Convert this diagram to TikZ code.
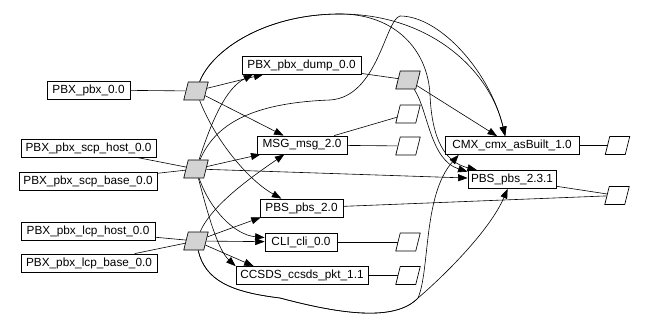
\documentclass[tikz,border=0pt]{standalone}
\usepackage{fontspec}
\setmainfont{Liberation Sans}
\usetikzlibrary{shapes.geometric,arrows.meta}
\definecolor{pgray}{RGB}{211,211,211}
\pgfdeclarelayer{bg}
\pgfsetlayers{bg,main}
\begin{document}
\begin{tikzpicture}[x=1pt,y=-1pt,
  box/.style={draw, line width=0.8pt, rectangle, minimum height=18pt, inner sep=0pt, fill=white, font=\fontsize{11.8}{13}\selectfont},
  para/.style={draw, line width=0.7pt, trapezium, trapezium left angle=76, trapezium right angle=104, minimum width=0pt, minimum height=0pt, inner xsep=7.75pt, inner ysep=9pt},
  gpara/.style={para, fill=pgray},
  wpara/.style={para, fill=white},
  ln/.style={line width=0.6pt},
  arr/.style={line width=0.6pt, -{Triangle[length=9.5pt,width=7pt]}}]
\useasboundingbox (0,0) rectangle (647,331);
% boxes
\node[box, minimum width=83pt]  (pbx)    at (88.5,90)   {PBX\_pbx\_0.0};
\node[box, minimum width=135pt] (scph)   at (88.5,148)  {PBX\_pbx\_scp\_host\_0.0};
\node[box, minimum width=138pt] (scpb)   at (88,181)    {PBX\_pbx\_scp\_base\_0.0};
\node[box, minimum width=134pt] (lcph)   at (88,231)    {PBX\_pbx\_lcp\_host\_0.0};
\node[box, minimum width=136pt] (lcpb)   at (89,263)    {PBX\_pbx\_lcp\_base\_0.0};
\node[box, minimum width=119pt] (dump)   at (301.5,65)  {PBX\_pbx\_dump\_0.0};
\node[box, minimum width=90pt]  (msg)    at (302,145)   {MSG\_msg\_2.0};
\node[box, minimum width=134pt] (cmx)    at (512,145.5) {CMX\_cmx\_asBuilt\_1.0};
\node[box, minimum width=88pt]  (pbs231) at (512,179.5) {PBS\_pbs\_2.3.1};
\node[box, minimum width=83pt]  (pbs20)  at (301.5,208) {PBS\_pbs\_2.0};
\node[box, minimum width=72pt]  (cli)    at (301,242)   {CLI\_cli\_0.0};
\node[box, minimum width=132pt] (ccsds)  at (302,275.5) {CCSDS\_ccsds\_pkt\_1.1};
% parallelograms
\node[gpara] (p1) at (196,91) {};
\node[gpara] (p2) at (196,169) {};
\node[gpara] (p3) at (196,241) {};
\node[gpara] (p4) at (408,80) {};
\node[wpara] (w1) at (408,114) {};
\node[wpara] (w2) at (408,146) {};
\node[wpara] (wcmx) at (617.5,145.5) {};
\node[wpara] (wpbs) at (617,195.5) {};
\node[wpara] (wcli) at (408,242) {};
\node[wpara] (wccsds) at (408,275.5) {};
\begin{pgfonlayer}{bg}
% plain lines
\draw[ln] (pbx) -- (p1);
\draw[ln] (scph) -- (p2);
\draw[ln] (scpb) -- (p2);
\draw[ln] (lcph) -- (p3);
\draw[ln] (lcpb) -- (p3);
\draw[ln] (dump) -- (p4);
\draw[ln] (msg) -- (w1);
\draw[ln] (msg) -- (w2);
\draw[ln] (cmx) -- (wcmx);
\draw[ln] (pbs231) -- (wpbs);
\draw[ln] (pbs20) -- (wpbs);
\draw[ln] (cli) -- (wcli);
\draw[ln] (ccsds) -- (wccsds);
% arrows
\draw[arr] (p1) -- (dump);
\draw[arr] (p2) .. controls (212,120) and (226,88) .. (dump.191);
\draw[arr] (p1) -- (msg);
\draw[arr] (p2) -- (msg);
\draw[arr] (p2) -- (pbs231);
\draw[arr] (p1) .. controls (215,140) and (248,180) .. (pbs20.155);
\draw[arr] (p2) .. controls (210,210) and (235,235) .. (cli.173);
\draw[arr] (p3) -- (cli);
\draw[arr] (p2) .. controls (208,215) and (218,250) .. (ccsds.172);
\draw[arr] (p3) -- (ccsds.169);
\draw[arr] (p3) -- (pbs20.193);
\draw[arr] (p3) .. controls (212,205) and (250,178) .. (msg.208);
\draw[arr] (p4) -- (cmx);
\draw[arr] (p4) .. controls (428,110) and (430,160) .. (pbs231.170);
\draw[arr] (p1) .. controls (212,50) and (265,14) .. (340,14) .. controls (430,14) and (490,70) .. (cmx.126);
\draw[arr] (p1) .. controls (212,50) and (265,14) .. (340,14) .. controls (395,14) and (428,50) .. (430,95) .. controls (432,140) and (445,162) .. (pbs231.165);
\draw[arr] (p2) .. controls (215,125) and (250,103) .. (330,100) .. controls (378,97) and (385,20) .. (400,16) .. controls (440,16) and (490,72) .. (cmx.126);
\draw[arr] (p3) .. controls (205,280) and (230,292) .. (280,298) .. controls (340,314) and (395,322) .. (418,298) .. controls (430,270) and (423,195) .. (cmx.190);
\draw[arr] (p3) .. controls (205,280) and (230,292) .. (280,298) .. controls (340,314) and (395,322) .. (418,298) .. controls (445,275) and (490,230) .. (pbs231.245);
\end{pgfonlayer}
\end{tikzpicture}
\end{document}
